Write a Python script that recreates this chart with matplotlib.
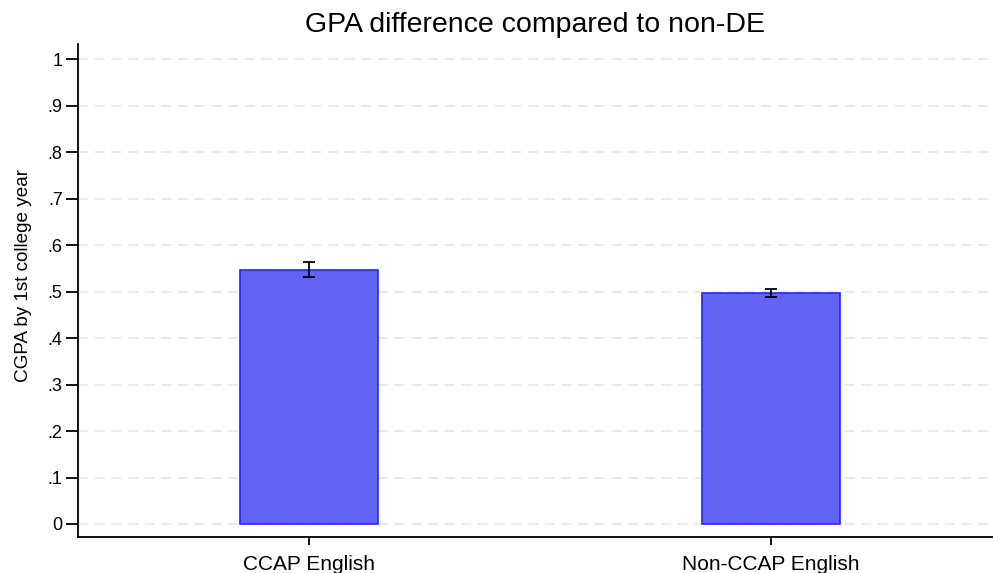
import numpy as np
import matplotlib.pyplot as plt

# CGPA by first college year, difference vs non-DE
groups = ["CCAP English", "Non-CCAP English"]
means = [0.547, 0.496]
ci_low = [0.532, 0.488]
ci_high = [0.563, 0.506]
yticks = [0, .1, .2, .3, .4, .5, .6, .7, .8, .9, 1]
ytick_labels = ["0", ".1", ".2", ".3", ".4", ".5", ".6", ".7", ".8", ".9", "1"]

plt.rcParams['font.family'] = ['Liberation Sans', 'DejaVu Sans']

fig = plt.figure(figsize=(9.93, 5.73), dpi=100)
ax = fig.add_axes([0.0785, 0.0628, 0.9215, 0.860])

x = np.arange(len(groups))
ax.bar(x, means, width=0.3, color='#6464f4', edgecolor='#2424ff', linewidth=1.2, zorder=2)

err = [np.array(means) - np.array(ci_low), np.array(ci_high) - np.array(means)]
ax.errorbar(x, means, yerr=err, fmt='none', ecolor='black', elinewidth=1.3,
            capsize=4, capthick=1.3, zorder=3)

ax.set_xlim(-0.5, 1.48)
ax.set_ylim(-0.028, 1.032)
ax.set_yticks(yticks)
ax.set_yticklabels(ytick_labels)
ax.set_xticks(x)
ax.set_xticklabels(groups)

ax.yaxis.grid(True, color='#e6e6e6', linestyle=(0, (6, 4)), linewidth=1.2, zorder=0)
ax.set_axisbelow(True)

for s in ['top', 'right']:
    ax.spines[s].set_visible(False)
for s in ['left', 'bottom']:
    ax.spines[s].set_linewidth(1.3)

ax.tick_params(axis='y', length=9, width=1.3, labelsize=13, pad=2)
ax.tick_params(axis='x', length=6, width=1.3, labelsize=15, pad=7)

ax.set_ylabel("CGPA by 1st college year", fontsize=13.6)
ax.yaxis.set_label_coords(-0.05, 0.53)
ax.set_title("GPA difference compared to non-DE", fontsize=20.5, pad=9)

fig.savefig("out.png", dpi=100)
